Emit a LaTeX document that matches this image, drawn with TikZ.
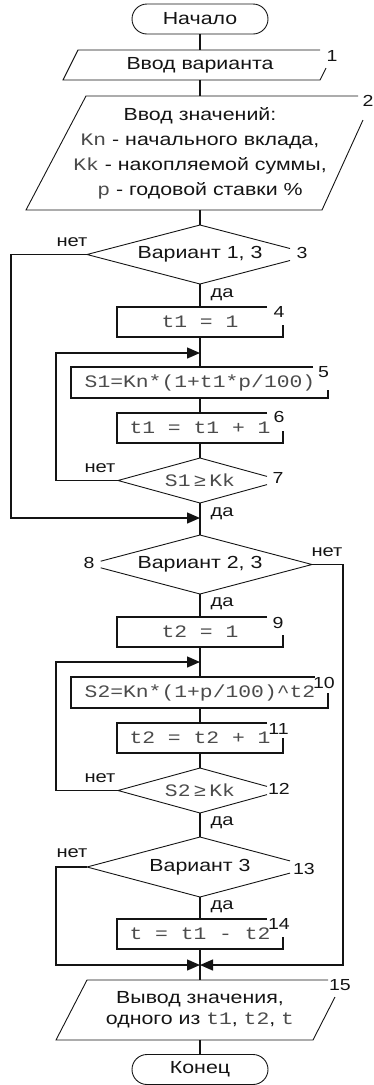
\documentclass[tikz,border=0pt]{standalone}
\usepackage{fontspec}
\setmainfont{Liberation Sans}[FakeStretch=1.22]
\newfontfamily\monof{Liberation Mono}[FakeStretch=1.22]
\usetikzlibrary{arrows.meta,shapes.misc}
\definecolor{monogray}{RGB}{75,75,75}
\definecolor{ink}{RGB}{20,20,20}
\newcommand\mt[1]{{\monof\color{monogray}#1}}
\begin{document}
\begin{tikzpicture}[x=1pt,y=-1pt,
  txt/.style={font=\fontsize{17.5}{25}\selectfont, text=ink},
  hold/.style={rectangle, inner sep=0pt, outer sep=0pt, txt},
  term/.style={rounded rectangle, draw=ink, line width=0.9pt, inner sep=0pt,
     minimum width=136pt, minimum height=30pt, txt},
  num/.style={font=\fontsize{16}{16}\selectfont, inner sep=0pt, text=ink},
  lab/.style={font=\fontsize{16.5}{17}\selectfont, inner sep=0pt, text=ink},
  flow/.style={line width=1.8pt, draw=ink},
  loopline/.style={line width=1.4pt, draw=ink, -{Triangle[length=13pt,width=11pt]}},
  outl/.style={line width=0.9pt, draw=ink},
  boxl/.style={line width=1.3pt, draw=ink},
]
\useasboundingbox (0,0) rectangle (373,1085);

% 0 start
\node[term] (start) at (200,19) {Начало};

% 1 input variant
\node[hold, minimum width=257pt, minimum height=30pt] (p1) at (200,65) {Ввод варианта};
\draw[outl] (320,50) -- (78,50) -- (63,80) -- (320,80) -- (326,68);
\node[num] (n1) at (332,56) {1};

% 2 input values
\node[hold, minimum width=296pt, minimum height=114pt, align=center] (p2) at (200,153)
  {Ввод значений:\\ \mt{Kn} - начального вклада,\\ \mt{Kk} - накопляемой суммы,\\ \mt{p} - годовой ставки \%};
\draw[outl] (358,96) -- (86,96) -- (26,210) -- (322,210) -- (363,120);
\node[num] (n2) at (368,101) {2};

% 3 decision
\node[hold, minimum width=226pt, minimum height=59pt] (d3) at (200,254.5) {Вариант 1, 3};
\draw[outl] (290,248.5) -- (200,225) -- (87,254.5) -- (200,284) -- (290,260.5);
\node[num] (n3) at (302,253) {3};
\node[lab] (no3) at (72,242) {нет};
\node[lab] (yes3) at (222,295) {да};

% 4
\node[hold, minimum width=166pt, minimum height=30pt] (b4) at (200,322) {\mt{t1 = 1}};
\draw[boxl] (267,307) -- (117,307) -- (117,337) -- (283,337) -- (283,325);
\node[num] (n4) at (279,312) {4};

\coordinate (j0) at (200,353);

% 5
\node[hold, minimum width=257pt, minimum height=31pt] (b5) at (200,382.5) {\mt{S1=Kn*(1+t1*p/100)}};
\draw[boxl] (313,367) -- (71,367) -- (71,398) -- (328,398) -- (328,390);
\node[num] (n5) at (323.5,372.5) {5};

% 6
\node[hold, minimum width=166pt, minimum height=30pt] (b6) at (200,428) {\mt{t1 = t1 + 1}};
\draw[boxl] (267,413) -- (117,413) -- (117,443) -- (283,443) -- (283,431);
\node[num] (n6) at (279,417) {6};

% 7
\node[hold, minimum width=164pt, minimum height=45pt] (d7) at (200,480.5) {\mt{S1\hspace{3pt}≥\hspace{3pt}Kk}};
\draw[outl] (267,476.4) -- (200,458) -- (118,480.5) -- (200,503) -- (267,484.6);
\node[num] (n7) at (278,478) {7};
\node[lab] (no7) at (100,468) {нет};
\node[lab] (yes7) at (222,514) {да};

\coordinate (j1) at (200,518);

% 8
\node[hold, minimum width=224pt, minimum height=59pt] (d8) at (200,564.5) {Вариант 2, 3};
\draw[outl] (100.7,561.2) -- (200,535) -- (312,564.5) -- (200,594) -- (100.7,567.8);
\node[num] (n8) at (89,563) {8};
\node[lab] (no8) at (327,552) {нет};
\node[lab] (yes8) at (222,604) {да};

% 9
\node[hold, minimum width=166pt, minimum height=30pt] (b9) at (200,632) {\mt{t2 = 1}};
\draw[boxl] (267,617) -- (117,617) -- (117,647) -- (283,647) -- (283,635);
\node[num] (n9) at (278,622.5) {9};

\coordinate (j2) at (200,662);

% 10
\node[hold, minimum width=257pt, minimum height=31pt] (b10) at (200,692.5) {\mt{S2=Kn*(1+p/100)\textasciicircum t2}};
\draw[boxl] (315,677) -- (71,677) -- (71,708) -- (328,708) -- (328,693);
\node[num] (n10) at (324,682.5) {10};

% 11
\node[hold, minimum width=166pt, minimum height=30pt] (b11) at (200,738) {\mt{t2 = t2 + 1}};
\draw[boxl] (267,723) -- (117,723) -- (117,753) -- (283,753) -- (283,738);
\node[num] (n11) at (278.5,729) {11};

% 12
\node[hold, minimum width=164pt, minimum height=45pt] (d12) at (200,790.5) {\mt{S2\hspace{3pt}≥\hspace{3pt}Kk}};
\draw[outl] (267,786.4) -- (200,768) -- (118,790.5) -- (200,813) -- (267,794.6);
\node[num] (n12) at (279,788.5) {12};
\node[lab] (no12) at (100,778) {нет};
\node[lab] (yes12) at (222,823) {да};

% 13
\node[hold, minimum width=226pt, minimum height=60pt] (d13) at (200,867) {Вариант 3};
\draw[outl] (290,860.9) -- (200,837) -- (87,867) -- (200,897) -- (290,873.1);
\node[num] (n13) at (304,868.5) {13};
\node[lab] (no13) at (72,853) {нет};
\node[lab] (yes13) at (222,907) {да};

% 14
\node[hold, minimum width=166pt, minimum height=30pt] (b14) at (200,934) {\mt{t = t1 - t2}};
\draw[boxl] (267,919) -- (117,919) -- (117,949) -- (283,949) -- (283,937);
\node[num] (n14) at (279,923.5) {14};

\coordinate (j3) at (200,965);

% 15 output
\node[hold, minimum width=257pt, minimum height=60pt, align=center, font=\fontsize{17.5}{21}\selectfont] (p15) at (200,1010)
  {Вывод значения,\\ одного из \mt{t1}, \mt{t2}, \mt{t}};
\draw[outl] (328,980) -- (87,980) -- (56,1040) -- (313,1040) -- (335,997);
\node[num] (n15) at (340,985) {15};

% end
\node[term] (end) at (200,1069.5) {Конец};

% main flow
\draw[flow] (start.south) -- (p1.north);
\draw[flow] (p1.south) -- (p2.north);
\draw[flow] (p2.south) -- (d3.north);
\draw[flow] (d3.south) -- (b4.north);
\draw[flow] (b4.south) -- (b5.north);
\draw[flow] (b5.south) -- (b6.north);
\draw[flow] (b6.south) -- (d7.north);
\draw[flow] (d7.south) -- (d8.north);
\draw[flow] (d8.south) -- (b9.north);
\draw[flow] (b9.south) -- (b10.north);
\draw[flow] (b10.south) -- (b11.north);
\draw[flow] (b11.south) -- (d12.north);
\draw[flow] (d12.south) -- (d13.north);
\draw[flow] (d13.south) -- (b14.north);
\draw[flow] (b14.south) -- (p15.north);
\draw[flow] (p15.south) -- (end.north);

% branches and loops
\draw[loopline] (d3.west) -- (11,254.5) |- (j1);
\draw[loopline] (d7.west) -- (56,480.5) |- (j0);
\draw[loopline] (d8.east) -- (343,564.5) |- (j3);
\draw[loopline] (d12.west) -- (56,790.5) |- (j2);
\draw[loopline] (d13.west) -- (56,867) |- (j3);
\end{tikzpicture}
\end{document}
